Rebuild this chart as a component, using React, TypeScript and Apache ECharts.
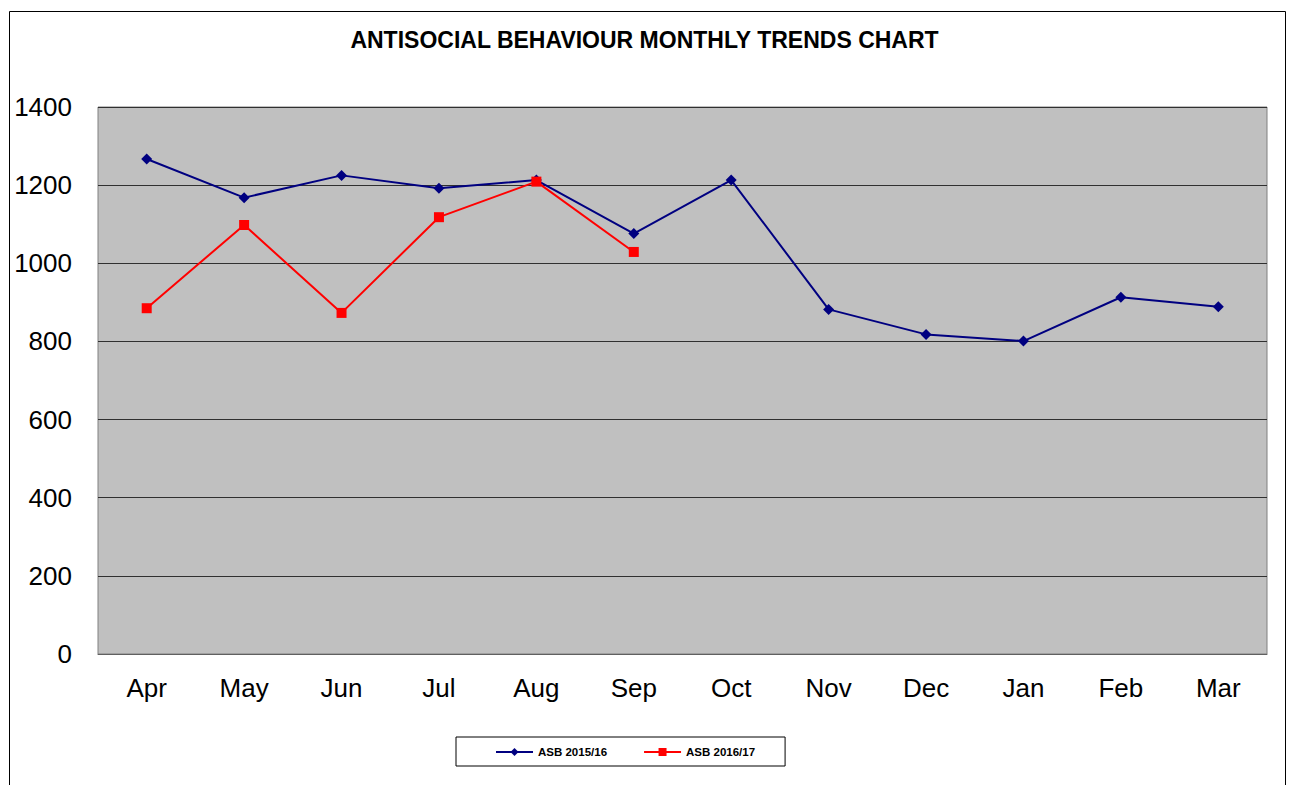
import React, { useEffect, useRef } from "react";
import * as echarts from "echarts";

const months = ["Apr", "May", "Jun", "Jul", "Aug", "Sep", "Oct", "Nov", "Dec", "Jan", "Feb", "Mar"];
const asb2015 = [1267, 1168, 1225, 1192, 1213, 1076, 1213, 882, 818, 801, 913, 889];
const asb2016 = [885, 1098, 873, 1118, 1209, 1029];
const seriesNames = ["ASB 2015/16", "ASB 2016/17"];
const titleText = "ANTISOCIAL BEHAVIOUR MONTHLY TRENDS CHART";

export default function App() {
  const ref = useRef<HTMLDivElement>(null);
  useEffect(() => {
    if (!ref.current) return;
    const chart = echarts.init(ref.current, undefined, { renderer: "svg" });
    chart.setOption({
      animation: false,
      backgroundColor: "#ffffff",
      title: {
        text: titleText,
        left: "center",
        top: 23,
        textStyle: { fontFamily: "Liberation Sans, Arial", fontSize: 23, fontWeight: "bold", color: "#000" },
      },
      graphic: [
        {
          type: "rect",
          shape: { x: 9.5, y: 11.5, width: 1276, height: 820 },
          style: { fill: "none", stroke: "#000", lineWidth: 1 },
          silent: true,
          z: -1,
        },
      ],
      legend: {
        left: 456,
        top: 737,
        orient: "horizontal",
        borderColor: "#000",
        borderWidth: 1,
        padding: [9, 30, 8, 39],
        itemGap: 36,
        itemWidth: 37,
        itemHeight: 10,
        textStyle: { fontFamily: "Liberation Sans, Arial", fontSize: 11.5, fontWeight: "bold", color: "#000" },
        data: seriesNames,
      },
      grid: {
        left: 98,
        top: 107,
        right: 22,
        bottom: 131,
        show: true,
        backgroundColor: "#C0C0C0",
        borderColor: "#808080",
        borderWidth: 1,
      },
      xAxis: {
        type: "category",
        data: months,
        boundaryGap: true,
        axisLine: { show: true, lineStyle: { color: "#606060", width: 1 } },
        axisTick: { show: false },
        axisLabel: { fontFamily: "Liberation Sans, Arial", fontSize: 26, color: "#000", margin: 21 },
        splitLine: { show: false },
      },
      yAxis: {
        type: "value",
        min: 0,
        max: 1400,
        interval: 200,
        axisLine: { show: false },
        axisTick: { show: false },
        axisLabel: {
          fontFamily: "Liberation Sans, Arial",
          fontSize: 26,
          color: "#000",
          margin: 26,
          formatter: (v: number) => String(v),
        },
        splitLine: { show: true, lineStyle: { color: "#303030", width: 1 } },
      },
      series: [
        {
          name: seriesNames[0],
          type: "line",
          data: asb2015,
          symbol: "diamond",
          symbolSize: 11,
          itemStyle: { color: "#000080" },
          lineStyle: { color: "#000080", width: 2 },
          z: 3,
        },
        {
          name: seriesNames[1],
          type: "line",
          data: asb2016,
          symbol: "rect",
          symbolSize: 10,
          itemStyle: { color: "#FF0000" },
          lineStyle: { color: "#FF0000", width: 2 },
          z: 4,
        },
      ],
    });
    return () => chart.dispose();
  }, []);
  return (
    <div
      ref={ref}
      style={{ position: "fixed", left: 0, top: 0, width: 1289, height: 785 }}
    />
  );
}
